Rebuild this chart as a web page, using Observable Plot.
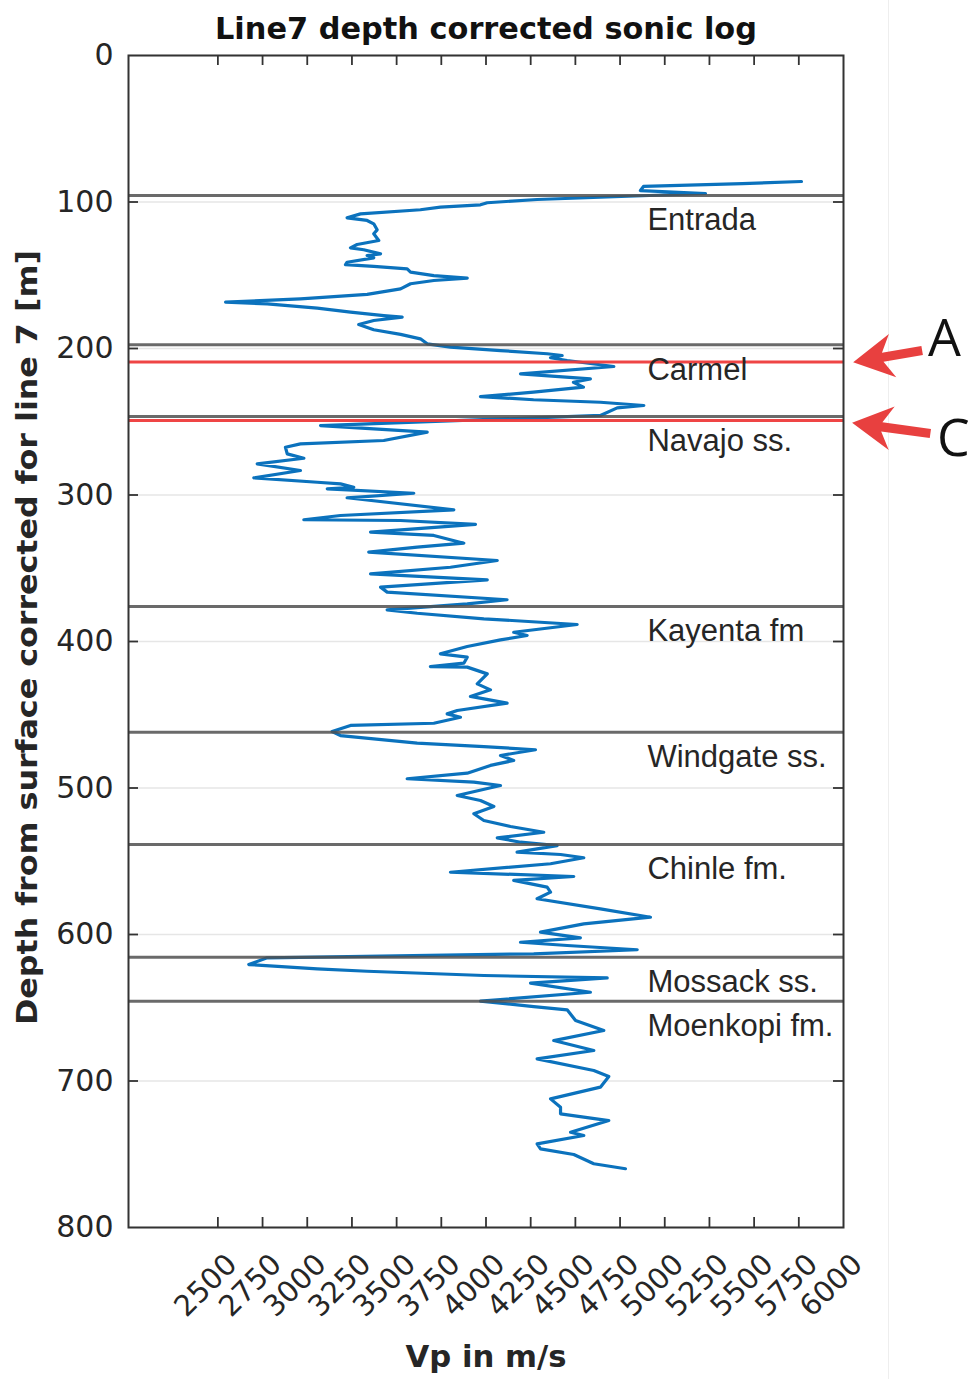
<!DOCTYPE html>
<html><head><meta charset="utf-8">
<script src="https://cdn.jsdelivr.net/npm/d3@7"></script>
<script src="https://cdn.jsdelivr.net/npm/@observablehq/plot@0.6"></script>
<style>
body{margin:0;background:#fff;}
#wrap{position:relative;width:969px;height:1379px;overflow:hidden;}
#edge{position:absolute;left:888px;top:0;width:1px;height:1379px;background:#eeeeee;}
</style></head><body><div id="wrap"><div id="edge"></div></div>
<script>
// ---- data ----
const vp = [5765,5435,4881,4864,5228,4286,4007,3969,3745,3633,
3298,3223,3335,3372,3391,3372,3400,3279,3242,3316,
3410,3335,3372,3223,3214,3372,3559,3578,3708,3895,
3708,3578,3522,3335,2962,2543,2776,3056,3242,3428,
3531,3372,3288,3372,3522,3633,3671,3801,4081,4342,
4426,4361,4454,4715,4193,4584,4489,4545,4266,3969,
4266,4640,4883,4734,4640,3074,3671,3428,2962,2878,
2888,2981,2720,2962,2701,3056,3186,3260,3112,3596,
3223,3820,3186,2981,3522,3941,3354,3708,3876,3615,
3344,4063,3801,3354,4007,3410,3447,4118,3895,3447,
3615,3988,4510,4155,4230,4081,3895,3745,3895,3876,
3689,3895,4007,3951,4025,3913,4118,3839,3783,3857,
3708,3242,3139,3186,3615,3988,4277,4081,4155,4025,
3895,3559,3932,4081,3839,3969,4044,3932,3988,4137,
4323,4063,4193,4398,4174,4417,4547,4361,3801,4491,
4155,4342,4361,4286,4640,4920,4547,4305,4528,4193,
4454,4846,4267,2776,2673,3056,3335,3988,4678,4249,
4584,3969,4267,4454,4501,4659,4379,4603,4286,4603,
4687,4640,4361,4417,4417,4687,4473,4547,4286,4305,
4491,4603,4780];
const depth = [86.0,87.4,89.4,92.2,94.2,98.3,100.5,101.9,103.5,105.3,
108.1,110.8,112.6,114.9,119.0,121.7,126.3,129.0,131.3,132.6,
135.4,136.5,138.1,141.1,142.7,144.0,145.6,147.9,150.2,152.0,
153.6,155.8,159.3,163.1,166.1,168.4,169.5,172.5,175.2,177.5,
178.6,180.9,183.6,187.2,190.4,193.4,196.8,199.1,201.4,203.6,
204.8,206.3,208.2,212.3,217.3,220.7,223.0,226.4,229.8,232.8,
235.0,236.7,238.9,240.5,245.7,252.6,257.1,262.8,265.1,267.4,
271.9,274.9,278.7,283.3,288.3,291.3,292.4,294.7,295.8,298.8,
301.9,310.1,314.0,316.9,317.4,320.1,325.4,327.6,332.9,335.6,
339.0,344.7,349.3,353.8,357.9,362.9,366.3,371.5,374.3,378.4,
380.7,384.5,388.4,393.7,395.9,398.9,403.4,408.4,410.7,414.8,
417.1,417.5,422.1,428.9,433.0,437.5,442.1,447.1,449.4,451.7,
455.8,457.3,461.4,464.2,469.4,471.7,473.9,477.8,481.2,484.6,
489.9,493.7,496.0,498.3,505.1,508.5,512.6,517.6,522.2,526.3,
530.2,534.0,537.0,539.3,543.8,545.4,547.6,551.7,557.5,560.4,
563.1,567.7,571.1,575.6,582.5,588.2,592.7,598.4,602.3,605.3,
607.5,610.4,613.2,615.9,620.5,623.4,625.1,628.0,629.6,633.2,
639.4,645.5,649.2,651.4,658.7,665.5,672.4,679.2,684.9,692.8,
696.9,704.2,712.2,717.9,722.4,727.0,735.0,737.2,742.9,746.3,
750.2,756.5,759.9];

const boundaryDepths = [95.6, 197.5, 246.4, 376.1, 461.9, 538.6, 615.5, 645.5];
const markerDepths = [209.3, 249.1];
const formationNames = ["Entrada","Carmel","Navajo ss.","Kayenta fm","Windgate ss.","Chinle fm.","Mossack ss.","Moenkopi fm."];
const formationLabelDepths = [112.6, 215.0, 263.5, 393.2, 479.2, 555.6, 632.8, 662.8];
const formationLabelVp = 4903;

const xTickValues = [2500,2750,3000,3250,3500,3750,4000,4250,4500,4750,5000,5250,5500,5750,6000];
const xInnerTicks = [2500,2750,3000,3250,3500,3750,4000,4250,4500,4750,5000,5250,5500,5750];
const yTickValues = [0,100,200,300,400,500,600,700,800];
const yInnerTicks = [100,200,300,400,500,600,700];

const markerLetters = ["A","C"];
const letterVp = [6565, 6615];
const letterDepth = [193.5, 261.8];
const arrowTipVp = [6054, 6048];
const arrowTipDepth = [209.4, 250.7];
const arrowTailVp = [6440, 6486];
const arrowTailDepth = [201.4, 258.0];

const titleText = "Line7 depth corrected sonic log";
const xLabelText = "Vp in m/s";
const yLabelText = "Depth from surface corrected for line 7 [m]";

// ---- layout ----
const WIDTH = 969, HEIGHT = 1379;
const ML = 128, MR = 126, MT = 55, MB = 152;
const PW = WIDTH - ML - MR, PH = HEIGHT - MT - MB;
const xDomain = [2000, 6000], yDomain = [0, 800];
const kx = PW / (xDomain[1] - xDomain[0]);
const ky = PH / (yDomain[1] - yDomain[0]);

const logData = vp.map((v, i) => ({vp: v, depth: depth[i]}));
const formations = formationNames.map((n, i) => ({name: n, depth: formationLabelDepths[i], vp: formationLabelVp}));
const letters = markerLetters.map((t, i) => ({t, vp: letterVp[i], depth: letterDepth[i]}));

function arrowSymbol(dxp, dyp) {
  const L = Math.hypot(dxp, dyp);
  const ux = dxp / L, uy = dyp / L;   // toward tail
  const px = -uy, py = ux;           // perpendicular
  const H = 40, W = 22, N = 30, s = 4.6;
  const pt = (a, b) => [a * ux + b * px, a * uy + b * py];
  const pts = [pt(0,0), pt(H, W), pt(N, s), pt(L, s), pt(L, -s), pt(N, -s), pt(H, -W)];
  return {draw(ctx) {
    ctx.moveTo(pts[0][0], pts[0][1]);
    for (let i = 1; i < pts.length; i++) ctx.lineTo(pts[i][0], pts[i][1]);
    ctx.closePath();
  }};
}
const arrowMarks = arrowTipVp.map((_, i) => {
  const dxp = (arrowTailVp[i] - arrowTipVp[i]) * kx;
  const dyp = (arrowTailDepth[i] - arrowTipDepth[i]) * ky;
  return Plot.dot([{vp: arrowTipVp[i], depth: arrowTipDepth[i]}], {
    x: "vp", y: "depth", symbol: arrowSymbol(dxp, dyp), fill: "#e8403f", stroke: "none", r: 5
  });
});

const darkText = "#262626";
const axisFont = "DejaVu Sans, sans-serif";

const chart = Plot.plot({
  width: WIDTH, height: HEIGHT,
  marginLeft: ML, marginRight: MR, marginTop: MT, marginBottom: MB,
  x: {domain: xDomain},
  y: {domain: yDomain, reverse: true},
  style: {background: "transparent"},
  marks: [
    Plot.ruleY(yTickValues, {y: d => d, stroke: "#e6e6e6", strokeWidth: 1.6}),
    Plot.line(logData, {x: "vp", y: "depth", stroke: "#0b72bd", strokeWidth: 3.2, strokeLinejoin: "round"}),
    Plot.ruleY(boundaryDepths, {y: d => d, stroke: "#505050", strokeWidth: 3, strokeOpacity: 0.85}),
    Plot.ruleY(markerDepths, {y: d => d, stroke: "#ee3b3b", strokeWidth: 3, strokeOpacity: 0.95}),
    Plot.frame({stroke: "#333", strokeWidth: 2}),
    Plot.ruleX(xInnerTicks, {x: d => d, insetTop: PH - 10, stroke: "#333", strokeWidth: 1.8}),
    Plot.ruleX(xInnerTicks, {x: d => d, insetBottom: PH - 10, stroke: "#333", strokeWidth: 1.8}),
    Plot.ruleY(yInnerTicks, {y: d => d, insetRight: PW - 10, stroke: "#333", strokeWidth: 1.8}),
    Plot.ruleY(yInnerTicks, {y: d => d, insetLeft: PW - 10, stroke: "#333", strokeWidth: 1.8}),
    Plot.axisY(yTickValues, {anchor: "left", tickSize: 0, tickPadding: 15, tickFormat: "d", label: null,
      fontSize: 30, fontFamily: axisFont, fill: darkText}),
    Plot.axisX(xTickValues, {anchor: "bottom", tickSize: 0, tickPadding: 32, dx: 14, tickRotate: -45, tickFormat: "d", label: null,
      fontSize: 29, fontFamily: axisFont, fill: darkText}),
    Plot.text(formations, {x: "vp", y: "depth", text: "name", textAnchor: "start", lineAnchor: "middle",
      fontSize: 31, fontFamily: "Liberation Sans, Arial, sans-serif", fill: darkText}),
    ...arrowMarks,
    Plot.text(letters, {x: "vp", y: "depth", text: "t", textAnchor: "middle", lineAnchor: "middle",
      fontSize: 52, fontFamily: "Open Sans, sans-serif", fill: "#111"}),
    Plot.text([titleText], {frameAnchor: "top", text: d => d, lineAnchor: "bottom", dy: -17,
      fontSize: 31, fontWeight: "bold", fontFamily: axisFont, fill: "#111", className: "t-title"}),
    Plot.text([xLabelText], {frameAnchor: "bottom", text: d => d, lineAnchor: "bottom", dy: 139,
      fontSize: 30, fontWeight: "bold", fontFamily: axisFont, fill: darkText, className: "t-xlabel"}),
    Plot.text([yLabelText], {frameAnchor: "left", text: d => d, rotate: -90, dx: -100, dy: -4,
      textAnchor: "middle", lineAnchor: "middle",
      fontSize: 28, fontWeight: "bold", fontFamily: axisFont, fill: darkText, className: "t-ylabel"})
  ]
});

const svg = d3.select(chart);
svg.selectAll(".t-title text").attr("textLength", 542).attr("lengthAdjust", "spacingAndGlyphs");
svg.selectAll(".t-xlabel text").attr("textLength", 161).attr("lengthAdjust", "spacingAndGlyphs");
svg.selectAll(".t-ylabel text").attr("textLength", 775).attr("lengthAdjust", "spacingAndGlyphs");
chart.style.position = "absolute";
chart.style.left = "0px";
chart.style.top = "0px";
document.getElementById("wrap").appendChild(chart);
</script>
</body></html>
